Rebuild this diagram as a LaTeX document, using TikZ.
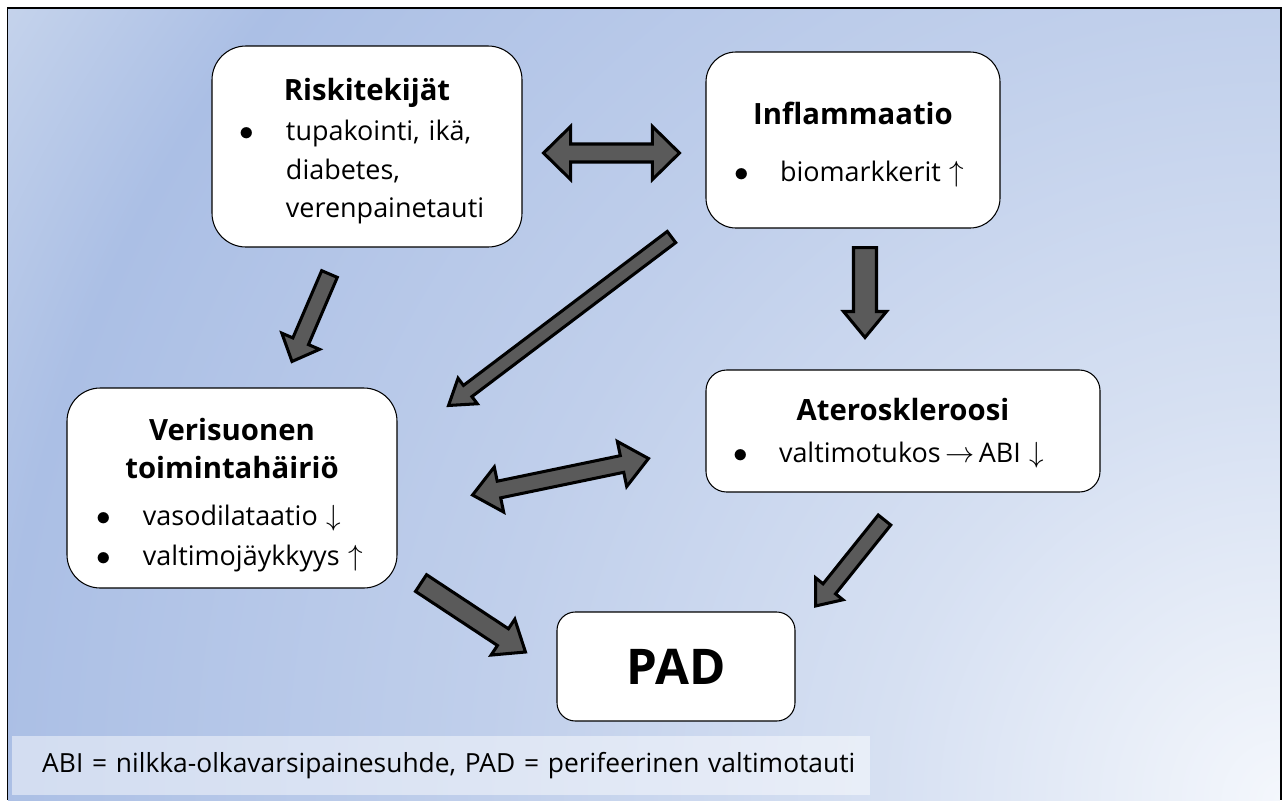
\documentclass[tikz,border=0pt]{standalone}
\usepackage{fontspec}
\setmainfont{Open Sans}
\usepackage{xcolor}
\usepackage{tikz}
\usetikzlibrary{positioning, calc}
\definecolor{slab}{HTML}{5A5A5A}
\definecolor{glowA}{HTML}{F4F7FC}
\definecolor{glowB}{HTML}{D6E0F2}
\definecolor{glowC}{HTML}{C0CFEB}
\definecolor{glowD}{HTML}{ABBFE5}
\definecolor{glowE}{HTML}{C6D4EC}
\pgfdeclareradialshading{bgglow}{\pgfpoint{0bp}{0bp}}{%
  color(0bp)=(glowA); color(6.5bp)=(glowB); color(12.9bp)=(glowC);
  color(20.7bp)=(glowD); color(24.4bp)=(glowE); color(50bp)=(glowE)}
\hyphenpenalty=10000
\exhyphenpenalty=10000
\newcommand{\bodyfont}{\fontsize{23}{33}\selectfont}
\newcommand{\headfont}{\fontsize{25}{30}\selectfont\bfseries}
\newcommand{\headline}[1]{\makebox[\hsize]{\headfont #1}}
\newcommand{\lift}[1]{\rule{0pt}{#1}}
\newcommand{\bul}{\makebox[1.38cm][l]{$\bullet$}}
\newcommand{\ind}{\hspace*{1.38cm}}
% block arrow: tail, tip, half shaft, half head, head length (px)
\newcommand{\fatarrow}[5]{%
  \path ($(#2)!#5*0.03cm!(#1)$) coordinate (fa-h);
  \draw[fatarr] ($(#1)!#3*0.03cm!90:(#2)$) -- ($(fa-h)!#3*0.03cm!90:(#2)$)
    -- ($(fa-h)!#4*0.03cm!90:(#2)$) -- (#2)
    -- ($(fa-h)!#4*0.03cm!-90:(#2)$) -- ($(fa-h)!#3*0.03cm!-90:(#2)$)
    -- ($(#1)!#3*0.03cm!-90:(#2)$) -- cycle;}
\newcommand{\fatdarrow}[5]{%
  \path ($(#1)!#5*0.03cm!(#2)$) coordinate (fa-p)
        ($(#2)!#5*0.03cm!(#1)$) coordinate (fa-q);
  \draw[fatarr] (#1) -- ($(fa-p)!#4*0.03cm!90:(#2)$) -- ($(fa-p)!#3*0.03cm!90:(#2)$)
    -- ($(fa-q)!#3*0.03cm!-90:(#1)$) -- ($(fa-q)!#4*0.03cm!-90:(#1)$) -- (#2)
    -- ($(fa-q)!#4*0.03cm!90:(#1)$) -- ($(fa-q)!#3*0.03cm!90:(#1)$)
    -- ($(fa-p)!#3*0.03cm!-90:(#2)$) -- ($(fa-p)!#4*0.03cm!-90:(#2)$) -- cycle;}
\tikzset{
  card/.style={draw=black, fill=white, line width=0.9pt, inner sep=0pt,
               align=left, font=\bodyfont},
  fatarr/.style={draw=black, fill=slab, line width=2.6pt, line join=miter},
  band/.style={fill=white, fill opacity=0.47, text opacity=1, inner sep=0pt,
               align=left, font=\fontsize{22.5}{27}\selectfont},
}

\begin{document}
\begin{tikzpicture}[x=0.03cm, y=-0.03cm]
  \useasboundingbox (0,0) rectangle (1282,800);
  \begin{scope}
    \clip (8,8) rectangle (1280,800);
    \shade[shading=bgglow] (1282,800) circle [radius=1550];
  \end{scope}
  \draw[line width=1.7pt] (7.5,800) -- (7.5,7.5) -- (1280.5,7.5) -- (1280.5,800);

  \node[card, minimum width=9.3cm, minimum height=6.03cm, rounded corners=1.02cm,
        text width=7.62cm] (risk) at (367,146.5)
    {\lift{27.5pt}\headline{Riskitekijät}\\[1pt]
     \bul tupakointi, ikä,\\
     \ind diabetes,\\
     \ind verenpainetauti};
  \node[card, minimum width=8.82cm, minimum height=5.28cm, rounded corners=0.9cm,
        text width=7.14cm] (inflam) at (853,140)
    {\lift{26.7pt}\headline{Inflammaatio}\\[16pt]
     \bul biomarkkerit $\uparrow$};
  \node[card, minimum width=9.9cm, minimum height=6cm, rounded corners=1cm,
        text width=8.1cm] (vessel) at (232,488)
    {\lift{31.3pt}\headline{Verisuonen}\\[-0.5pt]
     \headline{toimintahäiriö}\\[7pt]
     \bul vasodilataatio $\downarrow$\\[1pt]
     \bul valtimojäykkyys $\uparrow$};
  \node[card, minimum width=11.82cm, minimum height=3.66cm, rounded corners=0.62cm,
        text width=10.2cm] (ather) at (903,431)
    {\lift{22.4pt}\headline{Ateroskleroosi}\\[2.7pt]
     \bul valtimotukos\,$\rightarrow$\,ABI $\downarrow$};
  \node[card, minimum width=7.14cm, minimum height=3.27cm, rounded corners=0.55cm,
        align=center, font=\fontsize{42}{50}\selectfont\bfseries] (pad) at (676,666.5) {PAD};
  \node[band, minimum width=25.74cm, minimum height=1.77cm, text width=24.84cm,
        anchor=west] (key) at (12,765.5)
    {\hspace*{0.45cm}ABI = nilkka-olkavarsipainesuhde, PAD = perifeerinen valtimotauti};

  % arrow ends
  \coordinate (rsk-rt) at ($(risk.east)+(21,6.5)$);
  \coordinate (inf-lt) at ($(inflam.west)+(-26,13)$);
  \coordinate (inf-out) at ($(inflam.south west)+(-34,8.5)$);
  \coordinate (ves-in) at ($(vessel.north east)+(51,18)$);
  \coordinate (rsk-out) at ($(risk.south)+(-37.5,26.5)$);
  \coordinate (ves-top) at ($(vessel.north)+(60,-26)$);
  \coordinate (inf-dn) at ($(inflam.south)+(12,19)$);
  \coordinate (ath-top) at ($(ather.north)+(-38,-32)$);
  \coordinate (ves-rt) at ($(vessel.east)+(75,7)$);
  \coordinate (ath-lt) at ($(ather.west)+(-57,27.5)$);
  \coordinate (ves-out) at ($(vessel.south east)+(23.5,-5.5)$);
  \coordinate (pad-lt) at ($(pad.west)+(-31,-14.5)$);
  \coordinate (ath-out) at ($(ather.south)+(-18.5,27.5)$);
  \coordinate (pad-rt) at ($(pad.north east)+(20,-5.5)$);

  \fatdarrow{rsk-rt}{inf-lt}{9}{26.5}{27}
  \fatarrow{inf-out}{ves-in}{7}{16}{24}
  \fatarrow{rsk-out}{ves-top}{8.5}{20.5}{22}
  \fatarrow{inf-dn}{ath-top}{11.5}{21.5}{26}
  \fatdarrow{ves-rt}{ath-lt}{8.5}{23}{27}
  \fatarrow{ves-out}{pad-lt}{10}{21.5}{27}
  \fatarrow{ath-out}{pad-rt}{8}{17.5}{22}
\end{tikzpicture}
\end{document}
